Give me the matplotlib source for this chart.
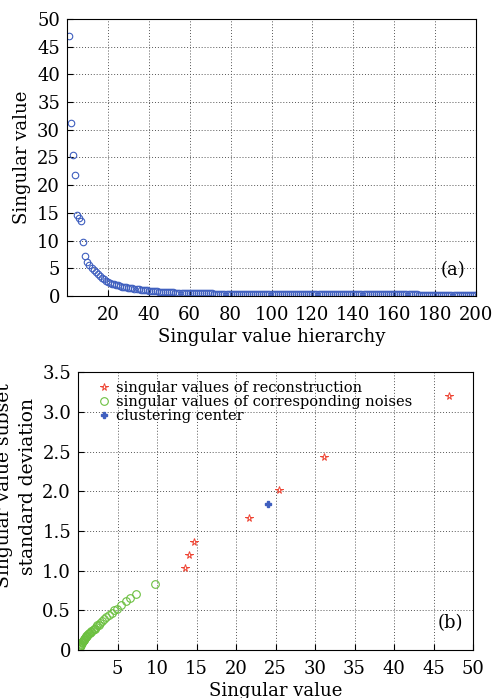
import numpy as np
import matplotlib
matplotlib.use('Agg')
import matplotlib.pyplot as plt

plt.rcParams['font.family'] = 'DejaVu Serif'
plt.rcParams['mathtext.fontset'] = 'dejavuserif'

# singular values in decreasing order (hierarchy 1..200)
sv = [47.0, 31.3, 25.4, 21.8, 14.7, 14.0, 13.6, 9.7, 7.3, 6.2,
      5.6, 5.1, 4.7, 4.3, 3.9, 3.6, 3.3, 3.0, 2.8, 2.6,
      2.4, 2.25, 2.1, 2.0, 1.9, 1.8, 1.7, 1.62, 1.55, 1.48,
      1.42, 1.36, 1.3, 1.25, 1.2, 1.15, 1.1, 1.06, 1.02, 0.98,
      0.94, 0.9, 0.87, 0.84, 0.81, 0.78, 0.75, 0.72, 0.7, 0.68,
      0.66, 0.64, 0.62, 0.6, 0.58, 0.56, 0.55, 0.54, 0.53, 0.52,
      0.51, 0.5, 0.5, 0.49, 0.49, 0.48, 0.48, 0.47, 0.47, 0.46,
      0.46, 0.45, 0.45, 0.45, 0.44, 0.44, 0.44, 0.43, 0.43, 0.43,
      0.42, 0.42, 0.42, 0.41, 0.41, 0.41, 0.41, 0.4, 0.4, 0.4,
      0.4, 0.39, 0.39, 0.39, 0.39, 0.38, 0.38, 0.38, 0.38, 0.38,
      0.37, 0.37, 0.37, 0.37, 0.37, 0.36, 0.36, 0.36, 0.36, 0.36,
      0.35, 0.35, 0.35, 0.35, 0.35, 0.35, 0.34, 0.34, 0.34, 0.34,
      0.34, 0.34, 0.33, 0.33, 0.33, 0.33, 0.33, 0.33, 0.33, 0.32,
      0.32, 0.32, 0.32, 0.32, 0.32, 0.32, 0.31, 0.31, 0.31, 0.31,
      0.31, 0.31, 0.31, 0.31, 0.3, 0.3, 0.3, 0.3, 0.3, 0.3,
      0.3, 0.3, 0.29, 0.29, 0.29, 0.29, 0.29, 0.29, 0.29, 0.29,
      0.29, 0.28, 0.28, 0.28, 0.28, 0.28, 0.28, 0.28, 0.28, 0.28,
      0.28, 0.27, 0.27, 0.27, 0.27, 0.27, 0.27, 0.27, 0.27, 0.27,
      0.27, 0.26, 0.26, 0.26, 0.26, 0.26, 0.26, 0.26, 0.26, 0.26,
      0.26, 0.26, 0.25, 0.25, 0.25, 0.25, 0.25, 0.25, 0.25, 0.25]
rank = np.arange(1, len(sv) + 1)

# reconstruction subsets: singular value vs subset std
rec_sv = [13.6, 14.0, 14.7, 21.7, 25.4, 31.2, 46.9]
rec_std = [1.03, 1.2, 1.36, 1.66, 2.02, 2.43, 3.2]

# noise subsets
noise_sv = [9.8, 7.3, 6.6, 6.1, 5.5, 4.9, 4.6, 4.3, 3.9, 3.6,
            3.3, 3.0, 2.8, 2.6, 2.4, 2.25, 2.1, 2.0, 1.9, 1.7,
            1.6, 1.5, 1.4, 1.3, 1.2, 1.1, 1.0, 0.95, 0.9, 0.85,
            0.8, 0.75, 0.7, 0.65, 0.6, 0.55, 0.5, 0.45, 0.4, 0.35,
            0.3, 0.27, 0.25]
noise_std = [0.83, 0.71, 0.66, 0.62, 0.57, 0.52, 0.5, 0.46, 0.44, 0.42,
             0.39, 0.36, 0.34, 0.32, 0.31, 0.29, 0.27, 0.26, 0.25, 0.24,
             0.23, 0.22, 0.21, 0.2, 0.19, 0.18, 0.17, 0.16, 0.15, 0.145,
             0.14, 0.13, 0.12, 0.115, 0.11, 0.1, 0.095, 0.085, 0.075, 0.065,
             0.055, 0.045, 0.035]

center_sv = [24.0]
center_std = [1.84]

blue = '#3f5fbf'
green = '#6cc040'
red = '#ee4433'
fs = 13
grid_kw = dict(ls=(0, (1, 2)), color='#555555', lw=0.7)

fig = plt.figure(figsize=(4.94, 6.98), dpi=100)

# (a) singular value spectrum
ax1 = fig.add_axes([0.1356, 0.5759, 0.828, 0.397])
ax1.plot(rank, sv, 'o', mfc='none', mec=blue, ms=4.7, mew=0.8)
ax1.set_xlim(0, 200)
ax1.set_ylim(0, 50)
ax1.set_xticks(np.arange(20, 201, 20))
ax1.set_yticks(np.arange(0, 51, 5))
ax1.grid(True, **grid_kw)
ax1.tick_params(direction='in', labelsize=fs, length=4)
ax1.tick_params(axis='x', pad=7)
ax1.tick_params(axis='y', pad=5)
ax1.set_xlabel('Singular value hierarchy', fontsize=fs, labelpad=3)
ax1.set_ylabel('Singular value', fontsize=fs, labelpad=4)
ax1.text(0.975, 0.06, '(a)', transform=ax1.transAxes, ha='right', va='bottom', fontsize=fs)

# (b) singular value vs standard deviation
ax2 = fig.add_axes([0.1579, 0.0688, 0.7996, 0.398])
ax2.plot(rec_sv, rec_std, '*', mfc='none', mec=red, ms=5.5, mew=0.7,
         label='singular values of reconstruction')
ax2.plot(noise_sv, noise_std, 'o', mfc='none', mec=green, ms=5.5, mew=0.8,
         label='singular values of corresponding noises')
ax2.plot(center_sv, center_std, marker='P', ls='none', color=blue, ms=5,
         label='clustering center')
ax2.set_xlim(0, 50)
ax2.set_ylim(0, 3.5)
ax2.set_xticks(np.arange(5, 51, 5))
ax2.set_yticks(np.arange(0, 3.51, 0.5))
ax2.set_yticklabels(['0', '0.5', '1.0', '1.5', '2.0', '2.5', '3.0', '3.5'])
ax2.grid(True, **grid_kw)
ax2.tick_params(direction='in', labelsize=fs, length=4)
ax2.tick_params(axis='x', pad=7)
ax2.tick_params(axis='y', pad=5)
ax2.set_xlabel('Singular value', fontsize=fs, labelpad=3)
ax2.set_ylabel('Singular value subset\nstandard deviation', fontsize=13.5, linespacing=1.45)
ax2.yaxis.set_label_coords(-0.104, 0.59)
ax2.text(0.975, 0.065, '(b)', transform=ax2.transAxes, ha='right', va='bottom', fontsize=fs)
ax2.legend(loc='upper left', frameon=False, fontsize=10.5, labelspacing=0.0,
           handletextpad=0.3, handlelength=1.0, borderaxespad=0.2,
           bbox_to_anchor=(0.025, 1.0))

fig.savefig('out.png', dpi=100)
